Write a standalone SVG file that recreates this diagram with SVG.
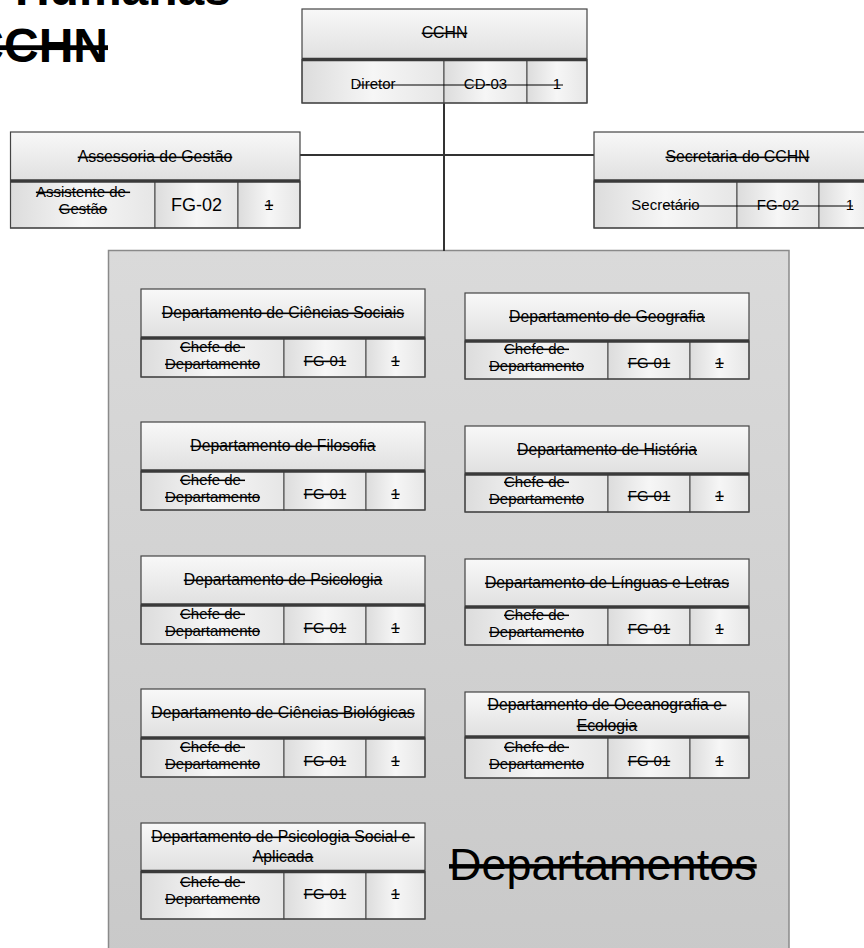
<svg xmlns="http://www.w3.org/2000/svg" width="864" height="948" viewBox="0 0 864 948">
<defs>
<linearGradient id="gHdr" x1="0" y1="0" x2="0" y2="1"><stop offset="0" stop-color="#f8f8f8"/><stop offset="1" stop-color="#e0e0e0"/></linearGradient>
<linearGradient id="gCell" x1="0" y1="0" x2="1" y2="0"><stop offset="0" stop-color="#dcdcdc"/><stop offset="0.5" stop-color="#f6f6f6"/><stop offset="1" stop-color="#e6e6e6"/></linearGradient>
<linearGradient id="gCont" x1="0" y1="0" x2="0" y2="1"><stop offset="0" stop-color="#dadada"/><stop offset="1" stop-color="#c9c9c9"/></linearGradient>
</defs>
<style>
text{font-family:"Liberation Sans",Arial,sans-serif;fill:#000}
.t{font-size:15px;text-anchor:middle;text-decoration:line-through}
.h{font-size:15.8px;text-anchor:middle;text-decoration:line-through}
.n{font-size:15px;text-anchor:middle}
.hdr{fill:url(#gHdr)}
.cell{fill:url(#gCell);stroke:#444;stroke-width:1}
.box{fill:none;stroke:#444;stroke-width:1.2}
.div{stroke:#3a3a3a;stroke-width:3.5}
.con{stroke:#333;stroke-width:2;fill:none}
.strk{stroke:#000;stroke-width:1.1}
</style>

<g id="title">
<text x="231" y="5" font-size="48" font-weight="bold" text-anchor="end" text-decoration="line-through">Ciências Humanas</text>
<text x="108" y="62" font-size="48" font-weight="bold" text-anchor="end" text-decoration="line-through">CCHN</text>
</g>

<g id="container">
<rect x="108.5" y="250.5" width="680.5" height="710" fill="url(#gCont)" stroke="#8a8a8a" stroke-width="1.5"/>
<text x="449" y="880" font-size="45" text-decoration="line-through">Departamentos</text>
</g>

<g id="connectors">
<line class="con" x1="444" y1="103" x2="444" y2="251"/>
<line class="con" x1="300" y1="155" x2="594" y2="155"/>
</g>

<g id="cchn">
<rect class="hdr" x="302" y="9" width="285" height="50.5"/>
<rect class="cell" x="302" y="59.5" width="142" height="43.5"/>
<rect class="cell" x="444" y="59.5" width="83" height="43.5"/>
<rect class="cell" x="527" y="59.5" width="60" height="43.5"/>
<rect class="box" x="302" y="9" width="285" height="94"/>
<line class="div" x1="302" y1="59.5" x2="587" y2="59.5"/>
<text class="h" x="444.5" y="38">CCHN</text>
<text class="n" x="373" y="89">Diretor</text>
<text class="n" x="485.5" y="89">CD-03</text>
<text class="n" x="557" y="89">1</text>
<line class="strk" x1="357" y1="85" x2="563" y2="85"/>
</g>

<g id="assessoria">
<rect class="hdr" x="10.5" y="132" width="289.5" height="49"/>
<rect class="cell" x="10.5" y="181" width="144.5" height="47"/>
<rect class="cell" x="155" y="181" width="83" height="47"/>
<rect class="cell" x="238" y="181" width="62" height="47"/>
<rect class="box" x="10.5" y="132" width="289.5" height="96"/>
<line class="div" x1="10.5" y1="181" x2="300" y2="181"/>
<text class="h" x="155" y="162">Assessoria de Gestão</text>
<text class="t" x="83" y="197" xml:space="preserve">Assistente de </text>
<text class="t" x="83" y="214">Gestão</text>
<text x="196.5" y="211" font-size="18" text-anchor="middle">FG-02</text>
<text class="t" x="269" y="210">1</text>
</g>

<g id="secretaria">
<rect class="hdr" x="594" y="132" width="287" height="49"/>
<rect class="cell" x="594" y="181" width="143" height="47"/>
<rect class="cell" x="737" y="181" width="82" height="47"/>
<rect class="cell" x="819" y="181" width="62" height="47"/>
<rect class="box" x="594" y="132" width="287" height="96"/>
<line class="div" x1="594" y1="181" x2="881" y2="181"/>
<text class="h" x="737.5" y="162">Secretaria do CCHN</text>
<text class="n" x="665.5" y="210">Secretário</text>
<text class="n" x="778" y="210">FG-02</text>
<text class="n" x="850" y="210">1</text>
<line class="strk" x1="663" y1="206" x2="853" y2="206"/>
</g>

<g id="dep-ciencias-sociais">
<rect class="hdr" x="141" y="289" width="284" height="49"/>
<rect class="cell" x="141" y="338" width="143" height="39"/>
<rect class="cell" x="284" y="338" width="82" height="39"/>
<rect class="cell" x="366" y="338" width="59" height="39"/>
<rect class="box" x="141" y="289" width="284" height="88"/>
<line class="div" x1="141" y1="338" x2="425" y2="338"/>
<text class="h" x="283" y="318">Departamento de Ciências Sociais</text>
<text class="t" x="212.5" y="352" xml:space="preserve">Chefe de </text>
<text class="t" x="212.5" y="369">Departamento</text>
<text class="t" x="325" y="366">FG-01</text>
<text class="t" x="395.5" y="366">1</text>
</g>

<g id="dep-filosofia">
<rect class="hdr" x="141" y="422" width="284" height="49"/>
<rect class="cell" x="141" y="471" width="143" height="39"/>
<rect class="cell" x="284" y="471" width="82" height="39"/>
<rect class="cell" x="366" y="471" width="59" height="39"/>
<rect class="box" x="141" y="422" width="284" height="88"/>
<line class="div" x1="141" y1="471" x2="425" y2="471"/>
<text class="h" x="283" y="451">Departamento de Filosofia</text>
<text class="t" x="212.5" y="485" xml:space="preserve">Chefe de </text>
<text class="t" x="212.5" y="502">Departamento</text>
<text class="t" x="325" y="499">FG-01</text>
<text class="t" x="395.5" y="499">1</text>
</g>

<g id="dep-psicologia">
<rect class="hdr" x="141" y="556" width="284" height="49"/>
<rect class="cell" x="141" y="605" width="143" height="39"/>
<rect class="cell" x="284" y="605" width="82" height="39"/>
<rect class="cell" x="366" y="605" width="59" height="39"/>
<rect class="box" x="141" y="556" width="284" height="88"/>
<line class="div" x1="141" y1="605" x2="425" y2="605"/>
<text class="h" x="283" y="585">Departamento de Psicologia</text>
<text class="t" x="212.5" y="619" xml:space="preserve">Chefe de </text>
<text class="t" x="212.5" y="636">Departamento</text>
<text class="t" x="325" y="633">FG-01</text>
<text class="t" x="395.5" y="633">1</text>
</g>

<g id="dep-ciencias-biologicas">
<rect class="hdr" x="141" y="689" width="284" height="49"/>
<rect class="cell" x="141" y="738" width="143" height="39"/>
<rect class="cell" x="284" y="738" width="82" height="39"/>
<rect class="cell" x="366" y="738" width="59" height="39"/>
<rect class="box" x="141" y="689" width="284" height="88"/>
<line class="div" x1="141" y1="738" x2="425" y2="738"/>
<text class="h" x="283" y="718">Departamento de Ciências Biológicas</text>
<text class="t" x="212.5" y="752" xml:space="preserve">Chefe de </text>
<text class="t" x="212.5" y="769">Departamento</text>
<text class="t" x="325" y="766">FG-01</text>
<text class="t" x="395.5" y="766">1</text>
</g>

<g id="dep-psicologia-social">
<rect class="hdr" x="141" y="823" width="284" height="48.5"/>
<rect class="cell" x="141" y="871.5" width="143" height="47.5"/>
<rect class="cell" x="284" y="871.5" width="82" height="47.5"/>
<rect class="cell" x="366" y="871.5" width="59" height="47.5"/>
<rect class="box" x="141" y="823" width="284" height="96"/>
<line class="div" x1="141" y1="871.5" x2="425" y2="871.5"/>
<text class="h" x="283" y="842" xml:space="preserve">Departamento de Psicologia Social e </text>
<text class="h" x="283" y="862">Aplicada</text>
<text class="t" x="212.5" y="887" xml:space="preserve">Chefe de </text>
<text class="t" x="212.5" y="904">Departamento</text>
<text class="t" x="325" y="899">FG-01</text>
<text class="t" x="395.5" y="899">1</text>
</g>

<g id="dep-geografia">
<rect class="hdr" x="465" y="293" width="284" height="48"/>
<rect class="cell" x="465" y="341" width="143" height="38"/>
<rect class="cell" x="608" y="341" width="82" height="38"/>
<rect class="cell" x="690" y="341" width="59" height="38"/>
<rect class="box" x="465" y="293" width="284" height="86"/>
<line class="div" x1="465" y1="341" x2="749" y2="341"/>
<text class="h" x="607" y="322">Departamento de Geografia</text>
<text class="t" x="536.5" y="354" xml:space="preserve">Chefe de </text>
<text class="t" x="536.5" y="371">Departamento</text>
<text class="t" x="649" y="368">FG-01</text>
<text class="t" x="719.5" y="368">1</text>
</g>

<g id="dep-historia">
<rect class="hdr" x="465" y="426" width="284" height="48"/>
<rect class="cell" x="465" y="474" width="143" height="38"/>
<rect class="cell" x="608" y="474" width="82" height="38"/>
<rect class="cell" x="690" y="474" width="59" height="38"/>
<rect class="box" x="465" y="426" width="284" height="86"/>
<line class="div" x1="465" y1="474" x2="749" y2="474"/>
<text class="h" x="607" y="455">Departamento de História</text>
<text class="t" x="536.5" y="487" xml:space="preserve">Chefe de </text>
<text class="t" x="536.5" y="504">Departamento</text>
<text class="t" x="649" y="501">FG-01</text>
<text class="t" x="719.5" y="501">1</text>
</g>

<g id="dep-linguas-letras">
<rect class="hdr" x="465" y="559" width="284" height="48"/>
<rect class="cell" x="465" y="607" width="143" height="38"/>
<rect class="cell" x="608" y="607" width="82" height="38"/>
<rect class="cell" x="690" y="607" width="59" height="38"/>
<rect class="box" x="465" y="559" width="284" height="86"/>
<line class="div" x1="465" y1="607" x2="749" y2="607"/>
<text class="h" x="607" y="588">Departamento de Línguas e Letras</text>
<text class="t" x="536.5" y="620" xml:space="preserve">Chefe de </text>
<text class="t" x="536.5" y="637">Departamento</text>
<text class="t" x="649" y="634">FG-01</text>
<text class="t" x="719.5" y="634">1</text>
</g>

<g id="dep-oceanografia-ecologia">
<rect class="hdr" x="465" y="692" width="284" height="45"/>
<rect class="cell" x="465" y="737" width="143" height="41"/>
<rect class="cell" x="608" y="737" width="82" height="41"/>
<rect class="cell" x="690" y="737" width="59" height="41"/>
<rect class="box" x="465" y="692" width="284" height="86"/>
<line class="div" x1="465" y1="737" x2="749" y2="737"/>
<text class="h" x="607" y="710" xml:space="preserve">Departamento de Oceanografia e </text>
<text class="h" x="607" y="731">Ecologia</text>
<text class="t" x="536.5" y="752" xml:space="preserve">Chefe de </text>
<text class="t" x="536.5" y="769">Departamento</text>
<text class="t" x="649" y="766">FG-01</text>
<text class="t" x="719.5" y="766">1</text>
</g>
</svg>
